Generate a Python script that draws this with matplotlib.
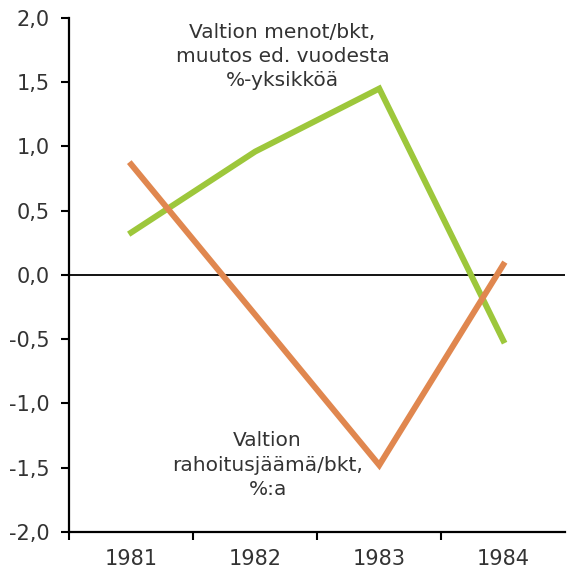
import numpy as np
import matplotlib.pyplot as plt
from matplotlib.ticker import FuncFormatter

years = ['1981', '1982', '1983', '1984']
menot = [0.33, 0.96, 1.45, -0.51]
rahoitus = [0.86, -0.31, -1.48, 0.08]

COLORS = {
    'menot': '#9DC73B',
    'rahoitus': '#E0874F',
    'text': '#333333'
}

plt.rcParams['font.family'] = ['DejaVu Sans']
fig = plt.figure(figsize=(5.67, 5.77), dpi=100)
ax = fig.add_axes([0.122, 0.078, 0.875, 0.891])

x = np.arange(len(years))
ax.plot(x, menot, color=COLORS['menot'], linewidth=4.3, solid_joinstyle='miter')
ax.plot(x, rahoitus, color=COLORS['rahoitus'], linewidth=4.3, solid_joinstyle='miter')
ax.axhline(0, color='black', linewidth=1.3, zorder=1)

ax.set_xlim(-0.5, 3.5)
ax.set_ylim(-2, 2)
ax.set_yticks(np.arange(-2, 2.01, 0.5))
ax.yaxis.set_major_formatter(FuncFormatter(lambda v, p: '{:.1f}'.format(v).replace('.', ',')))
ax.set_xticks(np.arange(-0.5, 2.6, 1))
ax.set_xticklabels([])
ax.set_xticks(x, minor=True)
ax.set_xticklabels(years, minor=True)
ax.tick_params(axis='x', which='minor', length=0, pad=12, labelsize=15, labelcolor=COLORS['text'])
ax.tick_params(axis='x', which='major', length=6, width=1.5)
ax.tick_params(axis='y', length=6, width=1.5, pad=8, labelsize=15, labelcolor=COLORS['text'])

for side in ['top', 'right']:
    ax.spines[side].set_visible(False)
for side in ['left', 'bottom']:
    ax.spines[side].set_linewidth(1.6)

ax.text(1.22, 1.70, 'Valtion menot/bkt,\nmuutos ed. vuodesta\n%-yksikköä',
        ha='center', va='center', fontsize=14.5, color=COLORS['text'], linespacing=1.35)
ax.text(1.1, -1.48, 'Valtion\nrahoitusjäämä/bkt,\n%:a',
        ha='center', va='center', fontsize=14.5, color=COLORS['text'], linespacing=1.35)

plt.savefig('out.png', dpi=100)
